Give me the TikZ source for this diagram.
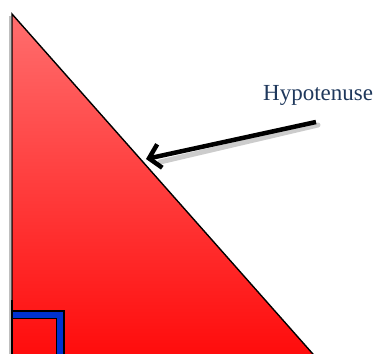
\documentclass[tikz,border=0pt]{standalone}
\usepackage{fontspec}
\setmainfont{Liberation Serif}
\usetikzlibrary{arrows.meta}
\definecolor{redtop}{RGB}{255,110,110}
\definecolor{redbot}{RGB}{255,10,10}
\definecolor{sqblue}{RGB}{0,50,210}
\definecolor{navytext}{RGB}{31,56,92}
\tikzset{
  tri/.style={draw=black, line width=1.4pt, top color=redtop, bottom color=redbot, line join=miter},
  label text/.style={text=navytext, font=\fontsize{23}{26}\selectfont, inner sep=0pt, anchor=base west},
  pointer/.style={line width=4.5pt, black, -{Straight Barb[length=11pt,width=24pt,line width=4.5pt]}},
}
\begin{document}
\begin{tikzpicture}[x=1pt,y=1pt]
  \useasboundingbox (0,0) rectangle (392,-354);
  \clip (0,0) rectangle (392,-354);
  % soft shadows
  \draw[black!25, line width=2pt] (10,-16) -- (10,-360);
  \draw[black!20, line width=5pt, line cap=round] (318,-125) -- (160,-162);
  % triangle
  \path[tri] (12,-14) -- (12,-362) -- (320,-362) -- cycle;
  % right-angle mark
  \draw[black, line width=9pt] (12,-314.5) -- (60,-314.5) -- (60,-362);
  \draw[sqblue, line width=6pt] (12,-314.5) -- (60,-314.5) -- (60,-362);
  \draw[black, line width=1.4pt] (12,-300) -- (12,-362);
  % label and arrow
  \node[label text] (hyp) at (263,-100) {Hypotenuse};
  \coordinate (tail) at (316,-122);
  \coordinate (tip) at (146,-159);
  \draw[pointer] (tail) -- (tip);
\end{tikzpicture}
\end{document}
